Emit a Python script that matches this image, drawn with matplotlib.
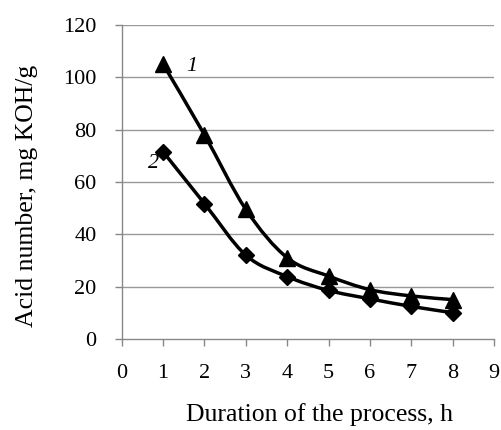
import numpy as np
import matplotlib
matplotlib.use("Agg")
import matplotlib.pyplot as plt
from matplotlib.path import Path
from matplotlib.patches import PathPatch

hours = [1, 2, 3, 4, 5, 6, 7, 8]
acid_1 = [105, 78, 49.5, 31, 24, 18.8, 16.4, 15]
acid_2 = [71.5, 51.7, 32, 23.8, 18.5, 15.3, 12.4, 10]

plt.rcParams['font.family'] = ['Liberation Serif', 'DejaVu Serif']


def smooth_path(x, y):
    # cubic bezier through the points, like the smoothed line of a spreadsheet chart
    p = np.column_stack([x, y]).astype(float)
    n = len(p)
    verts = [p[0]]
    codes = [Path.MOVETO]
    for i in range(n - 1):
        p0 = p[i - 1] if i > 0 else p[i]
        p3 = p[i + 2] if i + 2 < n else p[i + 1]
        c1 = p[i] + (p[i + 1] - p0) / 6
        c2 = p[i + 1] - (p3 - p[i]) / 6
        verts += [c1, c2, p[i + 1]]
        codes += [Path.CURVE4] * 3
    return Path(verts, codes)


fig = plt.figure(figsize=(5.01, 4.30), dpi=100)
ax = fig.add_axes([0.243, 0.212, 0.743, 0.730])

for val in range(20, 121, 20):
    ax.axhline(val, color='#999999', lw=1, zorder=1)

ax.add_patch(PathPatch(smooth_path(hours, acid_1), fill=False, ec='black', lw=2.5, zorder=3))
ax.add_patch(PathPatch(smooth_path(hours, acid_2), fill=False, ec='black', lw=2.5, zorder=3))
ax.plot(hours, acid_1, ls='none', marker='^', ms=11, color='black', zorder=4)
ax.plot(hours, acid_2, ls='none', marker='D', ms=8, color='black', zorder=4)

ax.text(1.55, 104, '1', fontsize=16, style='italic', ha='left', va='center')
ax.text(0.9, 67, '2', fontsize=16, style='italic', ha='right', va='center')

ax.set_xlim(0, 9)
ax.set_ylim(0, 120)
ax.set_xticks(range(0, 10))
ax.set_yticks(range(0, 121, 20))
ax.tick_params(axis='both', labelsize=16, color='#888888', length=5, width=1, direction='out')
ax.tick_params(axis='x', pad=13)
ax.tick_params(axis='y', pad=13)

for side in ['top', 'right']:
    ax.spines[side].set_visible(False)
for side in ['left', 'bottom']:
    ax.spines[side].set_color('#888888')
    ax.spines[side].set_linewidth(1)

ax.set_xlabel('Duration of the process, h', fontsize=18.5)
ax.set_ylabel('Acid number, mg KOH/g', fontsize=18.5)
ax.xaxis.set_label_coords(0.53, -0.205)
ax.yaxis.set_label_coords(-0.225, 0.454)

fig.savefig('out.png', dpi=100)
